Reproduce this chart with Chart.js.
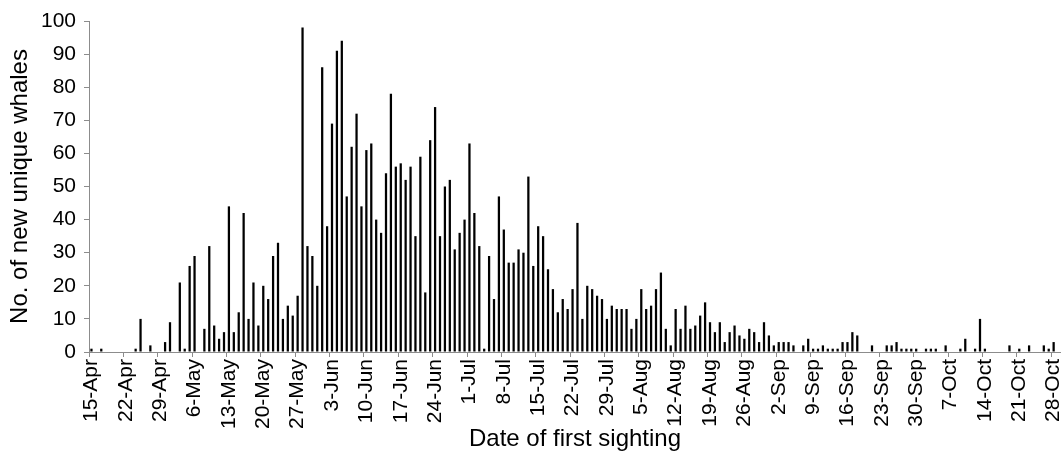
<!DOCTYPE html>
<html>
<head>
<meta charset="utf-8">
<script src="https://cdn.jsdelivr.net/npm/chart.js@4.4.0/dist/chart.umd.min.js"></script>
<style>
  html, body { margin: 0; padding: 0; background: #fff; }
  #wrap { width: 1061px; height: 465px; position: relative; }
</style>
</head>
<body>
<div id="wrap"><canvas id="chart"></canvas></div>
<script>
// one bar per day, starting 15 April
const firstDay = { month: 3, day: 15 };   // month is 0-based (April)
const dayCount = 198;

// labelled (weekly) ticks on the date axis
const tickLabels = ['15-Apr', '22-Apr', '29-Apr', '6-May', '13-May', '20-May', '27-May',
    '3-Jun', '10-Jun', '17-Jun', '24-Jun', '1-Jul', '8-Jul', '15-Jul', '22-Jul', '29-Jul',
    '5-Aug', '12-Aug', '19-Aug', '26-Aug', '2-Sep', '9-Sep', '16-Sep', '23-Sep', '30-Sep',
    '7-Oct', '14-Oct', '21-Oct', '28-Oct'];

// new unique whales per day
const newWhales = [
    1, 0, 1, 0, 0, 0, 0, 0, 0, 1, 10, 0, 2, 0, 0, 3, 9, 0, 21, 1,          // 15-Apr ..
    26, 29, 0, 7, 32, 8, 4, 6, 44, 6, 12, 42, 10, 21, 8, 20, 16, 29, 33, 10, // 5-May ..
    14, 11, 17, 98, 32, 29, 20, 86, 38, 69, 91, 94, 47, 62, 72, 44, 61, 63, 40, 36, // 25-May ..
    54, 78, 56, 57, 52, 56, 35, 59, 18, 64, 74, 35, 50, 52, 31, 36, 40, 63, 42, 32, // 14-Jun ..
    1, 29, 16, 47, 37, 27, 27, 31, 30, 53, 26, 38, 35, 25, 19, 12, 16, 13, 19, 39,  // 4-Jul ..
    10, 20, 19, 17, 16, 10, 14, 13, 13, 13, 7, 10, 19, 13, 14, 19, 24, 7, 2, 13,    // 24-Jul ..
    7, 14, 7, 8, 11, 15, 9, 6, 9, 3, 6, 8, 5, 4, 7, 6, 3, 9, 5, 2,                  // 13-Aug ..
    3, 3, 3, 2, 0, 2, 4, 1, 1, 2, 1, 1, 1, 3, 3, 6, 5, 0, 0, 2,                      // 2-Sep ..
    0, 0, 2, 2, 3, 1, 1, 1, 1, 0, 1, 1, 1, 0, 2, 0, 0, 1, 4, 0,                      // 22-Sep ..
    1, 10, 1, 0, 0, 0, 0, 2, 0, 1, 0, 2, 0, 0, 2, 1, 3, 0                            // 12-Oct ..
];

const monthNames = ['Jan', 'Feb', 'Mar', 'Apr', 'May', 'Jun', 'Jul', 'Aug', 'Sep', 'Oct', 'Nov', 'Dec'];
const days = [];
for (let i = 0; i < dayCount; i++) {
    const d = new Date(2001, firstDay.month, firstDay.day + i);
    days.push(d.getDate() + '-' + monthNames[d.getMonth()]);
}

const axisGrey = '#8c8c8c';
const fontFamily = "'Liberation Sans', Arial, sans-serif";

new Chart(document.getElementById('chart'), {
    type: 'bar',
    data: {
        labels: days,
        datasets: [{
            label: 'New unique whales',
            data: newWhales,
            backgroundColor: '#000',
            borderWidth: 0,
            categoryPercentage: 1,
            barPercentage: 0.46
        }]
    },
    options: {
        responsive: true,
        maintainAspectRatio: false,
        animation: false,
        layout: { padding: { top: 21, right: 0, bottom: 0, left: 0 } },
        plugins: {
            legend: { display: false },
            tooltip: { enabled: false }
        },
        scales: {
            x: {
                offset: true,
                grid: {
                    offset: true,
                    drawOnChartArea: false,
                    drawTicks: true,
                    tickLength: 5,
                    color: (c) => (c.tick && tickLabels.includes(days[c.index])) ? axisGrey : 'rgba(0,0,0,0)'
                },
                border: { display: true, color: axisGrey, width: 1 },
                ticks: {
                    autoSkip: false,
                    maxRotation: 90,
                    minRotation: 90,
                    padding: 2,
                    color: '#000',
                    font: { family: fontFamily, size: 21 },
                    callback: function (value) {
                        const lab = days[value];
                        return tickLabels.includes(lab) ? lab : '';
                    }
                },
                title: {
                    display: true,
                    text: 'Date of first sighting',
                    color: '#000',
                    font: { family: fontFamily, size: 24 },
                    padding: { top: 11, bottom: 11 }
                },
                afterFit: (scale) => {
                    scale.height = 113;
                    scale.paddingLeft = 0;
                    scale.paddingRight = 0;
                }
            },
            y: {
                min: 0,
                max: 100,
                grid: {
                    drawOnChartArea: false,
                    drawTicks: true,
                    tickLength: 5,
                    color: axisGrey
                },
                border: { display: true, color: axisGrey, width: 1 },
                ticks: {
                    stepSize: 10,
                    padding: 8,
                    color: '#000',
                    font: { family: fontFamily, size: 21 }
                },
                title: {
                    display: true,
                    text: 'No. of new unique whales',
                    color: '#000',
                    font: { family: fontFamily, size: 24 },
                    padding: { top: 6, bottom: 0 }
                },
                afterFit: (scale) => {
                    scale.width = 89;
                }
            }
        }
    }
});
</script>
</body>
</html>
